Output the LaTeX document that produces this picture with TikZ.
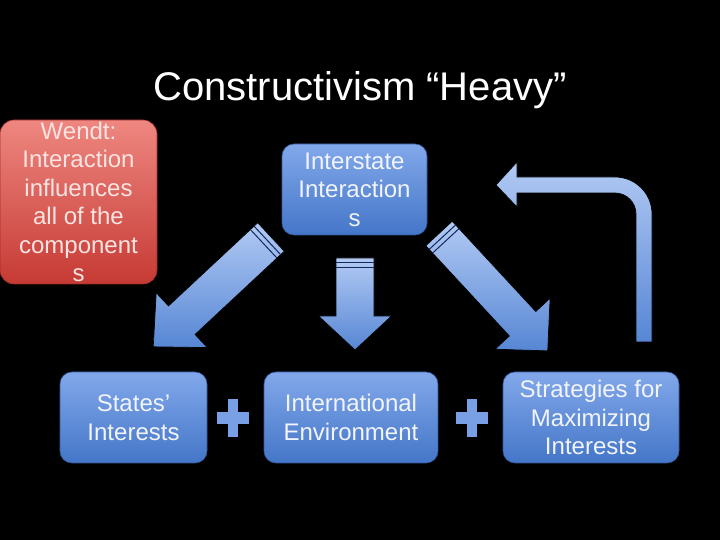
\documentclass[tikz,border=0pt]{standalone}
\usepackage{fontspec}
\setmainfont{Liberation Sans}
\definecolor{boxtop}{RGB}{130,168,234}
\definecolor{boxbot}{RGB}{68,118,200}
\definecolor{boxline}{RGB}{50,90,160}
\definecolor{redtop}{RGB}{238,135,128}
\definecolor{redbot}{RGB}{198,58,52}
\definecolor{arrlight}{RGB}{178,202,244}
\definecolor{arrdark}{RGB}{86,134,212}
\definecolor{stripe}{RGB}{20,40,90}
\definecolor{txtcol}{RGB}{242,244,250}
\definecolor{redtxt}{RGB}{250,228,226}
\tikzset{
  bluebox/.style={rounded corners=12pt, top color=boxtop, bottom color=boxbot, draw=boxline, line width=0.6pt,
    inner sep=0pt, align=center, text=txtcol, font=\fontsize{24}{28.5}\selectfont},
  redbox/.style={rounded corners=14pt, top color=redtop, bottom color=redbot, draw=redbot!80!black, line width=0.6pt,
    inner sep=0pt},
  redlabel/.style={inner sep=0pt, align=center, text=redtxt, font=\fontsize{24}{28.5}\selectfont},
  arrowfill/.style={top color=arrlight, bottom color=arrdark, draw=black, line width=0.7pt},
  plusfill/.style={fill=boxtop!85!boxbot, draw=none},
  stripeline/.style={draw=stripe, line width=1pt}
}
\newcommand{\blockarrow}[7]{%
  \begin{scope}[shift={(#1,#2)},rotate=#3]
    \shade[arrowfill] (0,{-#5/2}) -- (#4,{-#5/2}) -- (#4,{-#7/2}) -- ({#4+#6},0) -- (#4,{#7/2}) -- (#4,{#5/2}) -- (0,{#5/2}) -- cycle;
    \draw[stripeline] (5,{-#5/2}) -- (5,{#5/2});
    \draw[stripeline] (10,{-#5/2}) -- (10,{#5/2});
  \end{scope}}
\begin{document}
\begin{tikzpicture}[x=1pt,y=1pt]
\fill[black] (0,0) rectangle (720,540);
\useasboundingbox (0,0) rectangle (720,540);

\node[text=white, font=\fontsize{40}{48}\selectfont, inner sep=0pt] (title) at (360,450) {Constructivism “Heavy”};

\node[redbox, minimum width=157pt, minimum height=164pt] (wendt) at (78.5,338) {};
\node[redlabel] (wendtlabel) at (wendt.center) {Wendt:\\Interaction\\influences\\all of the\\component\\s};

\node[bluebox, minimum width=145pt, minimum height=91pt] (inter) at (354.5,350.5) {Interstate\\Interaction\\s};
\node[bluebox, minimum width=147pt, minimum height=91pt] (states) at (133.5,122.5) {States’\\Interests};
\node[bluebox, minimum width=174pt, minimum height=91pt] (env) at (351,122.5) {International\\Environment};
\node[bluebox, minimum width=176pt, minimum height=91pt] (strat) at (591,122.5) {Strategies for\\Maximizing\\Interests};

% block arrows: tail x, tail y, angle, shaft length, shaft width, head length, head width
\blockarrow{271}{303}{223}{122}{39}{39}{75}
\blockarrow{355}{282}{-90}{58}{38}{34}{73}
\blockarrow{439}{306.5}{-47.2}{123}{36}{37}{75}

% bent return arrow
\shade[top color=arrlight, bottom color=arrdark, draw=black, line width=0.7pt]
  (636,198) -- (636,326) arc[start angle=0, end angle=90, radius=21pt] -- (517,347) -- (517,333) -- (496,355)
  -- (517,378) -- (517,363) -- (615,363) arc[start angle=90, end angle=0, radius=37pt] -- (652,198) -- cycle;

% plus signs
\fill[plusfill] (217,116) rectangle (249,128);
\fill[plusfill] (228,103) rectangle (238,141);
\fill[plusfill] (455.5,116) rectangle (487.5,128);
\fill[plusfill] (466.5,103) rectangle (476.5,141);
\end{tikzpicture}
\end{document}
